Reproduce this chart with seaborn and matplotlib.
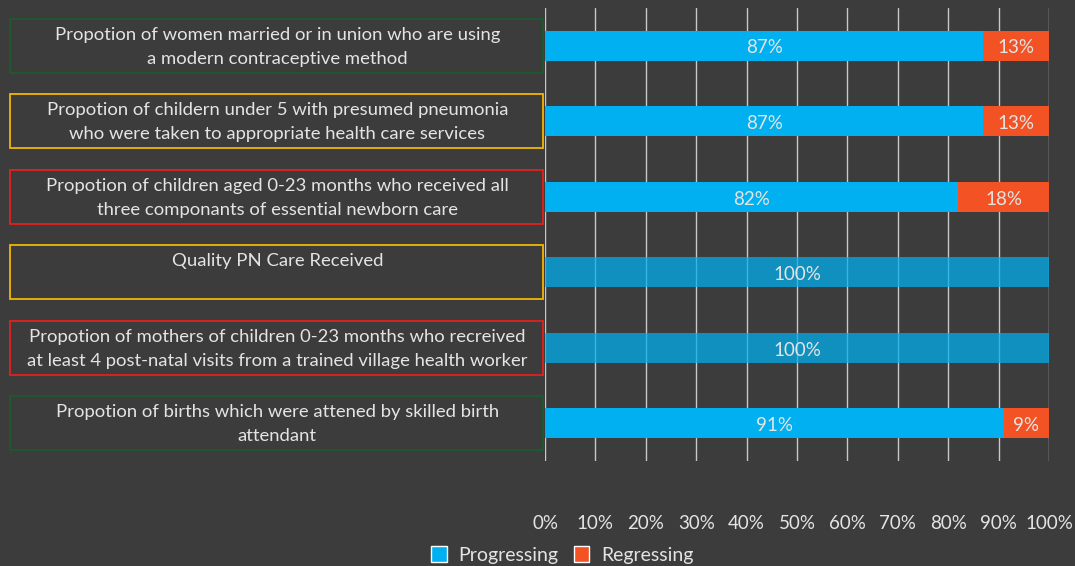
import matplotlib
matplotlib.use("Agg")
import matplotlib.pyplot as plt
import matplotlib.transforms as mtransforms
from matplotlib.patches import Rectangle, Patch
import pandas as pd
import seaborn as sns

# chart data
indicators = [
    "Propotion of women married or in union who are using\na modern contraceptive method",
    "Propotion of childern under 5 with presumed pneumonia\nwho were taken to appropriate health care services",
    "Propotion of children aged 0-23 months who received all\nthree componants of essential newborn care",
    "Quality PN Care Received",
    "Propotion of mothers of children 0-23 months who recreived\nat least 4 post-natal visits from a trained village health worker",
    "Propotion of births which were attened by skilled birth\nattendant",
]
progressing = [87, 87, 82, 100, 100, 91]
regressing = [13, 13, 18, 0, 0, 9]
box_colors = ["#1d5a2e", "#f2b705", "#e3211f", "#f2b705", "#e3211f", "#1d5a2e"]
ticks = [0, 10, 20, 30, 40, 50, 60, 70, 80, 90, 100]

bg = "#3c3c3c"
blue = "#00b0f0"
orange = "#f25224"
txt = "#e4e4e4"

sns.set_style("dark")
plt.rcParams['font.family'] = ['Lato', 'DejaVu Sans']

df = pd.DataFrame({"indicator": indicators,
                   "progressing": progressing,
                   "regressing": regressing})
df["total"] = df["progressing"] + df["regressing"]

fig = plt.figure(figsize=(10.75, 5.66), dpi=100, facecolor=bg)
ax = fig.add_axes([0.507, 0.1855, 0.4688, 0.8004])
ax.set_facecolor(bg)

sns.barplot(data=df, x="total", y="indicator", color=orange, saturation=1,
            width=0.4, ax=ax, zorder=3, edgecolor="none")
sns.barplot(data=df, x="progressing", y="indicator", color=blue, saturation=1,
            width=0.4, ax=ax, zorder=3, edgecolor="none")

n = len(df)
# full bars look translucent in the original, hide the orange underneath them
for i in range(n):
    if df["regressing"][i] == 0:
        ax.patches[i].set_visible(False)
        ax.patches[n + i].set_alpha(0.73)

for i, row in df.iterrows():
    ax.text(row["progressing"] / 2, i + 0.03, f"{row['progressing']}%", ha="center",
            va="center", color=txt, fontsize=13.5, zorder=5)
    if row["regressing"] > 0:
        ax.text(row["progressing"] + row["regressing"] / 2, i + 0.03, f"{row['regressing']}%",
                ha="center", va="center", color=txt, fontsize=13.5, zorder=5)

ax.set_xlim(0, 100)
ax.set_ylim(n - 0.5, -0.5)
ax.set_xticks(ticks)
ax.set_xticklabels([f"{t}%" for t in ticks], color=txt, fontsize=13.5)
ax.set_yticks([])
ax.set_xlabel("")
ax.set_ylabel("")
ax.tick_params(axis="x", length=0, pad=39)
ax.grid(axis="x", color="#c8c8c8", linewidth=1, zorder=0)
ax.grid(axis="y", visible=False)
for s in ax.spines.values():
    s.set_visible(False)

# boxed category labels on the left
trans = mtransforms.blended_transform_factory(fig.transFigure, ax.transData)
for i, (label, c) in enumerate(zip(indicators, box_colors)):
    ax.add_patch(Rectangle((0.0093, i - 0.36), 0.496, 0.72, transform=trans,
                           fill=False, edgecolor=c, linewidth=1.3, clip_on=False))
    ax.text(0.258, i - 0.25, label, transform=trans, ha="center", va="top",
            color=txt, fontsize=13.3, linespacing=1.6, clip_on=False)

handles = [Patch(facecolor=blue, label="Progressing"),
           Patch(facecolor=orange, label="Regressing")]
fig.legend(handles=handles, loc="center", bbox_to_anchor=(0.523, 0.02), ncol=2,
           frameon=False, fontsize=14, labelcolor=txt, handlelength=0.8,
           handleheight=0.9, columnspacing=0.8, handletextpad=0.6)

fig.savefig("out.png", dpi=100, facecolor=bg)
